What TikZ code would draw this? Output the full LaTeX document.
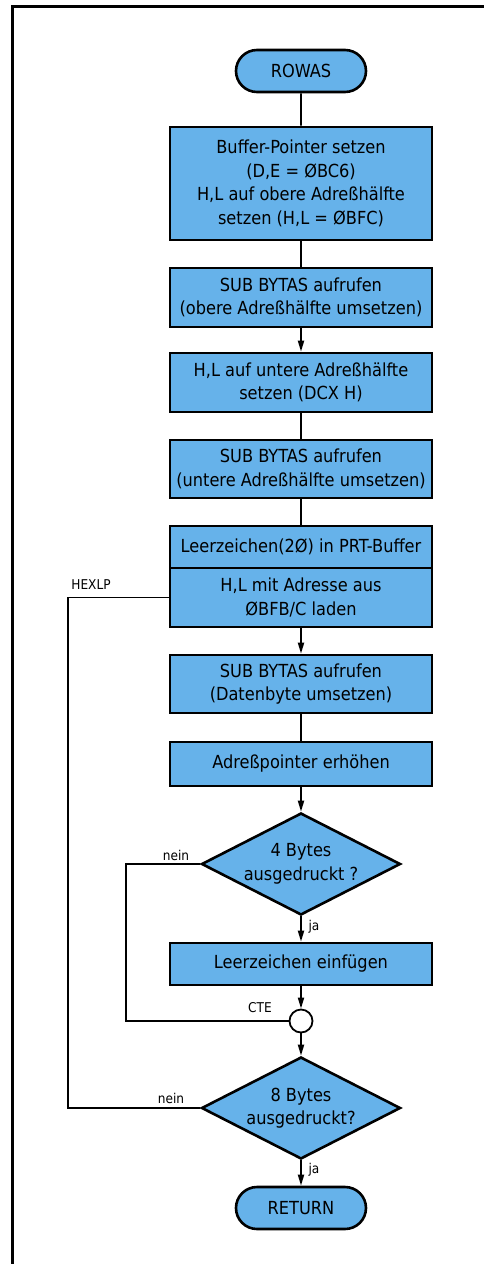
\documentclass[tikz,border=0pt]{standalone}
\usepackage{fontspec}
\setmainfont{DejaVu Sans Condensed}
\usetikzlibrary{shapes.geometric,shapes.misc,arrows.meta}
\definecolor{boxblue}{RGB}{102,178,234}
\begin{document}
\begin{tikzpicture}[x=1pt,y=-1pt,
 font=\fontsize{18}{23.5}\selectfont,
 proc/.style={draw,line width=2.6pt,fill=boxblue,rectangle,minimum width=262pt,inner sep=0pt,align=center},
 term/.style={draw,line width=2.6pt,fill=boxblue,rounded rectangle,minimum width=130pt,minimum height=42pt,inner sep=0pt},
 dec/.style={draw,line width=2.6pt,fill=boxblue,diamond,aspect=2,minimum width=199pt,minimum height=102pt,inner sep=0pt,align=center},
 conn/.style={line width=1.8pt},
 arr/.style={line width=1.8pt,-{Triangle[length=11pt,width=6pt]}},
 loopline/.style={line width=1.1pt},
 lbl/.style={font=\fontsize{13.5}{15}\selectfont}
]
\useasboundingbox (0,0) rectangle (484,1264);
\draw[line width=3pt] (484,6) -- (12,6) -- (12,1264);

\node[term] (rowas) at (301,71) {ROWAS};
\node[proc,minimum height=113pt] (b1) at (301,183.5) {Buffer-Pointer setzen\\(D,E = ØBC6)\\H,L auf obere Adreßhälfte\\setzen (H,L = ØBFC)};
\node[proc,minimum height=59pt] (b2) at (301,297.5) {SUB BYTAS aufrufen\\(obere Adreßhälfte umsetzen)};
\node[proc,minimum height=59pt] (b3) at (301,382.5) {H,L auf untere Adreßhälfte\\setzen (DCX H)};
\node[proc,minimum height=58pt] (b4) at (301,469) {SUB BYTAS aufrufen\\(untere Adreßhälfte umsetzen)};
\node[proc,minimum height=42pt] (b5a) at (301,547) {Leerzeichen(2Ø) in PRT-Buffer};
\node[proc,minimum height=59pt] (b5b) at (301,597.5) {H,L mit Adresse aus\\ØBFB/C laden};
\node[proc,minimum height=58pt] (b6) at (301,684) {SUB BYTAS aufrufen\\(Datenbyte umsetzen)};
\node[proc,minimum height=44pt] (b7) at (301,764) {Adreßpointer erhöhen};
\node[dec] (d1) at (301,864) {4 Bytes\\ausgedruckt ?};
\node[proc,minimum height=42pt] (b8) at (301,964) {Leerzeichen einfügen};
\node[circle,draw,line width=1.8pt,fill=white,minimum size=23pt,inner sep=0pt] (cte) at (301,1021) {};
\node[dec] (d2) at (301,1108) {8 Bytes\\ausgedruckt?};
\node[term] (ret) at (301,1208) {RETURN};

\draw[conn] (rowas) -- (b1);
\draw[conn] (b1) -- (b2);
\draw[arr] (b2) -- (b3);
\draw[conn] (b3) -- (b4);
\draw[conn] (b4) -- (b5a);
\draw[arr] (b5b) -- (b6);
\draw[conn] (b6) -- (b7);
\draw[arr] (b7) -- (d1);
\draw[arr] (d1) -- (b8);
\draw[arr] (b8) -- (cte);
\draw[arr] (cte) -- (d2);
\draw[arr] (d2) -- (ret);

\coordinate (l1) at (126,1021);
\coordinate (l2) at (68,597.5);
\draw[loopline] (d1.west) -| (l1) -- (cte.west);
\draw[loopline] (d2.west) -| (l2) -- (b5b.west);

\node[lbl] (hexlp) at (91,585) {HEXLP};
\node[lbl] (nein1) at (176,855) {nein};
\node[lbl] (ja1) at (314,927) {ja};
\node[lbl] (ctel) at (260,1008) {CTE};
\node[lbl] (nein2) at (171,1098) {nein};
\node[lbl] (ja2) at (314,1170) {ja};
\end{tikzpicture}
\end{document}
